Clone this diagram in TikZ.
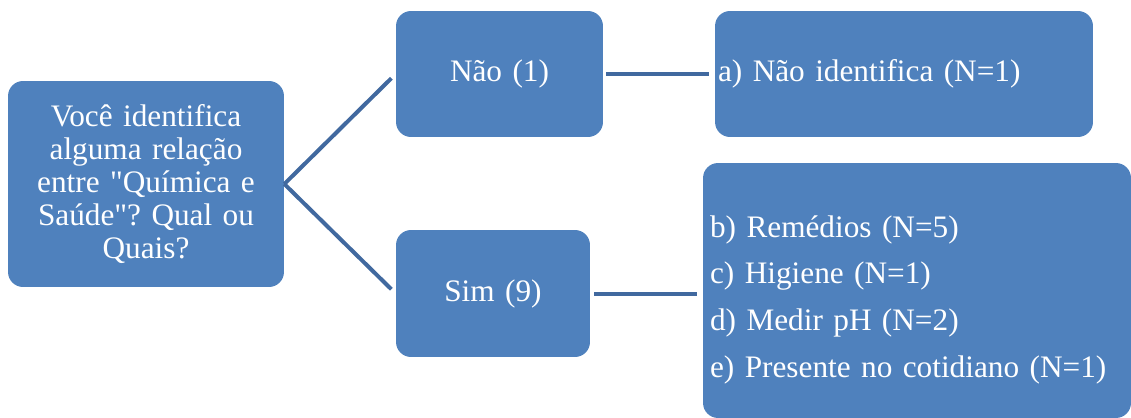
\documentclass[tikz,border=0pt]{standalone}
\usepackage{fontspec}
\setmainfont{Liberation Serif}
\definecolor{boxblue}{HTML}{4F81BD}
\definecolor{lineblue}{HTML}{41699F}

\begin{document}
\frenchspacing
\begin{tikzpicture}[x=0.02cm,y=-0.02cm,
    box/.style={fill=boxblue,text=white,rounded corners=0.3cm,inner sep=0.08cm,%
      font=\fontsize{17.8}{18.8}\selectfont},
    link/.style={lineblue,line width=0.08cm}]
      \useasboundingbox (0,0) rectangle (1131,418) ;
      \node[box,align=center,text width=5.36cm,minimum height=4.12cm] %
      (root) at (146,184) {Você identifica\\alguma relação\\entre \textquotedbl Química e\\Saúde\textquotedbl ? Qual ou\\Quais?} ;
      \node[box,align=center,text width=3.98cm,minimum height=2.52cm] %
      (nao) at (499.5,74) {Não (1)} ;
      \node[box,align=center,text width=3.72cm,minimum height=2.54cm] %
      (sim) at (493,293.5) {Sim (9)} ;
      \node[box,align=left,inner xsep=0.06cm,text width=7.44cm,minimum height=2.52cm] %
      (naoid) at (904,74) {a) Não identifica (N=1)} ;
      \node[box,align=left,inner xsep=0.14cm,text width=8.28cm,minimum height=5.1cm,%
      font=\fontsize{17.8}{26.6}\selectfont] %
      (simlist) at (917,290.5) {\rule{0pt}{0.8cm}b) Remédios (N=5)\\c) Higiene (N=1)\\d) Medir pH (N=2)\\e) Presente no cotidiano (N=1)} ;
      \draw[link,shorten >=0.12cm] (root.east) -- (nao.west) ;
      \draw[link,shorten >=0.12cm] (root.east) -- (sim.west) ;
      \draw[link,shorten <=0.06cm,shorten >=0.12cm] (nao.east) -- (naoid.west) ;
      \draw[link,shorten <=0.08cm,shorten >=0.12cm] (sim.east) -- (sim.east -| simlist.west) ;
    \end{tikzpicture}
\end{document}
